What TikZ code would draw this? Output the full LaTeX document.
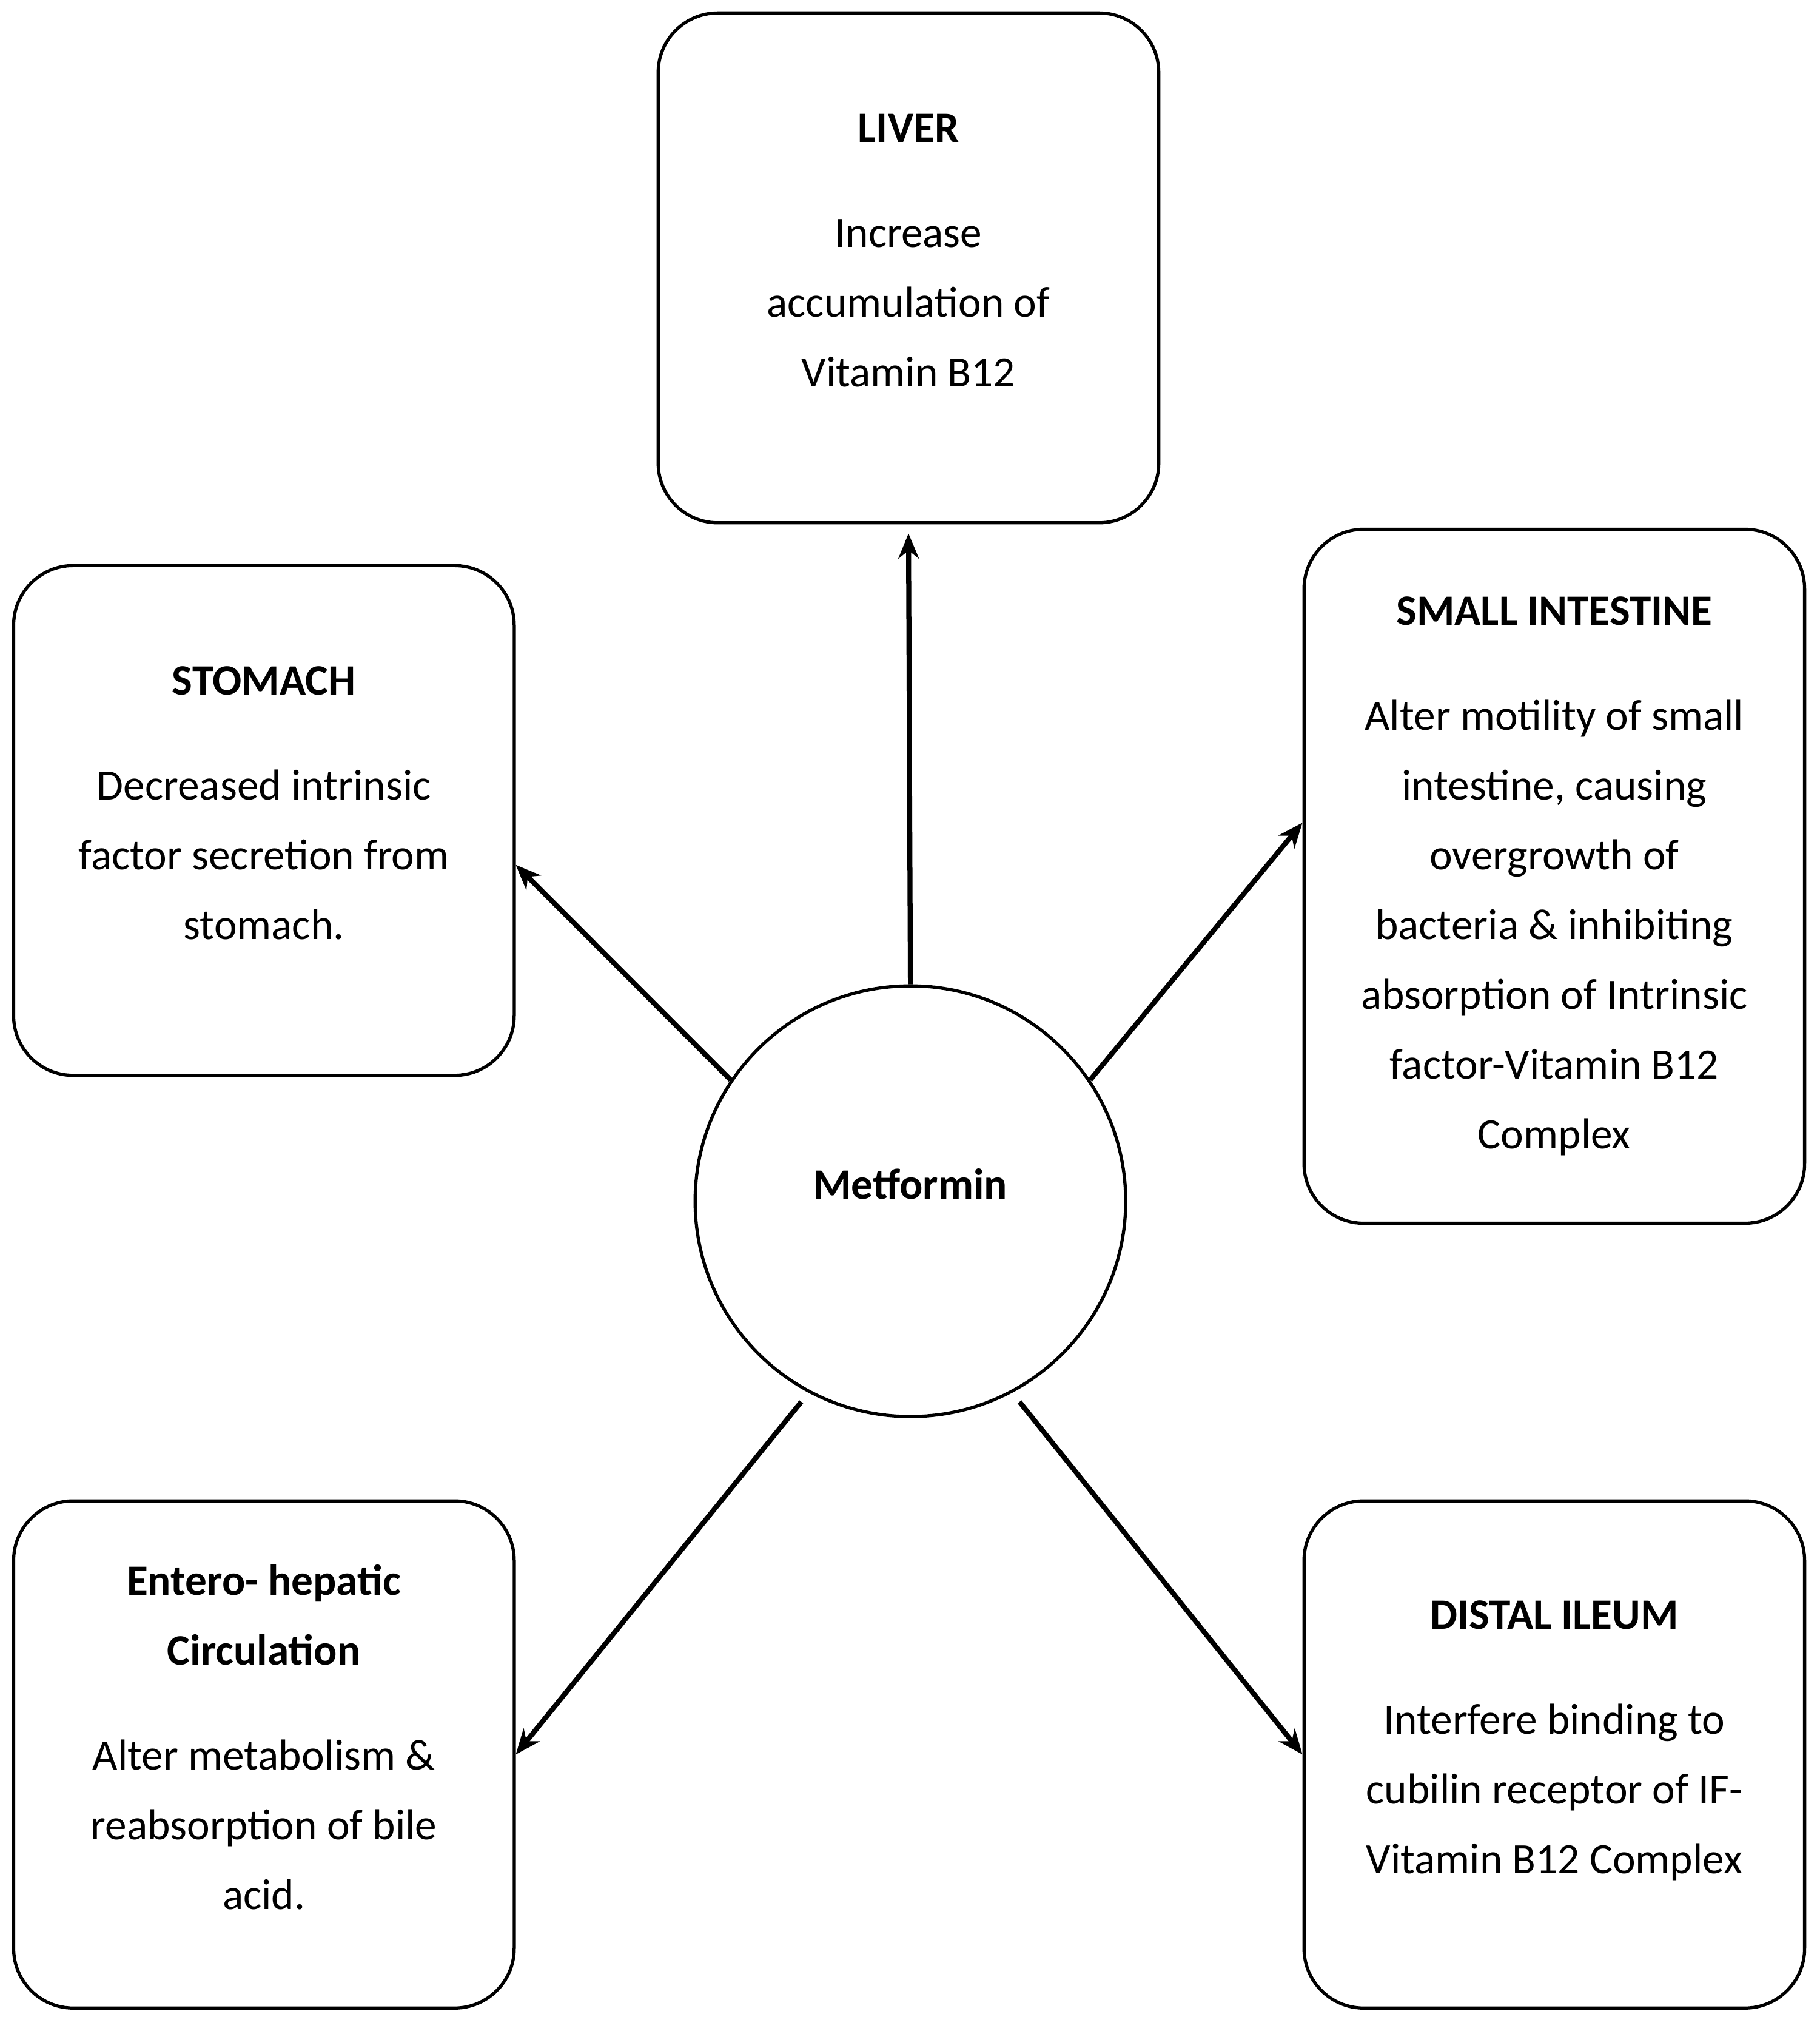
\documentclass[tikz,border=0pt]{standalone}
\usepackage{fontspec}
\setmainfont{Carlito}
\usetikzlibrary{arrows.meta}

\begin{document}
\begin{tikzpicture}[
	organ/.style={draw, line width=0.7pt, rounded corners=0.46cm, align=center, inner sep=0pt, minimum width=3.86cm},
	lift/.style={text depth=0.27cm},
	drug/.style={draw, circle, line width=0.7pt, minimum size=3.32cm, inner sep=0pt},
	link/.style={-{Stealth[length=5.5pt,width=4.5pt]}, line width=1.1pt},
	font=\fontsize{9.5pt}{15.3pt}\selectfont
]
	\useasboundingbox (0,0) rectangle (14.03,-15.68);
	
	% boxes round the drug
	\node[organ, lift, minimum height=3.93cm] (liver) at (7.005,-2.065) {\textbf{LIVER}\\[7.7pt] Increase\\ accumulation of\\ Vitamin B12};
	\node[organ, lift, minimum height=3.93cm] (stomach) at (2.035,-6.325) {\textbf{STOMACH}\\[7.7pt] Decreased intrinsic\\ factor secretion from\\ stomach.};
	\node[organ, minimum height=5.35cm] (smallint) at (11.985,-6.755) {\textbf{SMALL INTESTINE}\\[7.7pt] Alter motility of small\\ intestine, causing\\ overgrowth of\\ bacteria \& inhibiting\\ absorption of Intrinsic\\ factor-Vitamin B12\\ Complex};
	\node[organ, lift, minimum height=3.91cm] (entero) at (2.035,-13.525) {\textbf{Entero- hepatic}\\ \textbf{Circulation}\\[7.7pt] Alter metabolism \&\\ reabsorption of bile\\ acid.};
	\node[organ, lift, minimum height=3.91cm] (ileum) at (11.985,-13.525) {\textbf{DISTAL ILEUM}\\[7.7pt] Interfere binding to\\ cubilin receptor of IF-\\ Vitamin B12 Complex};
	
	\node[drug, lift] (met) at (7.02,-9.26) {\textbf{Metformin}};
	
	% arrows
	\draw[link, shorten >=2pt] (met.north) -- (liver.south);
	\draw[link] (met.146) -- (stomach.-10);
	\draw[link] (met.34) -- (smallint.168);
	\draw[link, shorten <=0.09cm] (met.-118) -- (entero.east);
	\draw[link, shorten <=0.09cm] (met.-62) -- (ileum.west);
\end{tikzpicture}
\end{document}
